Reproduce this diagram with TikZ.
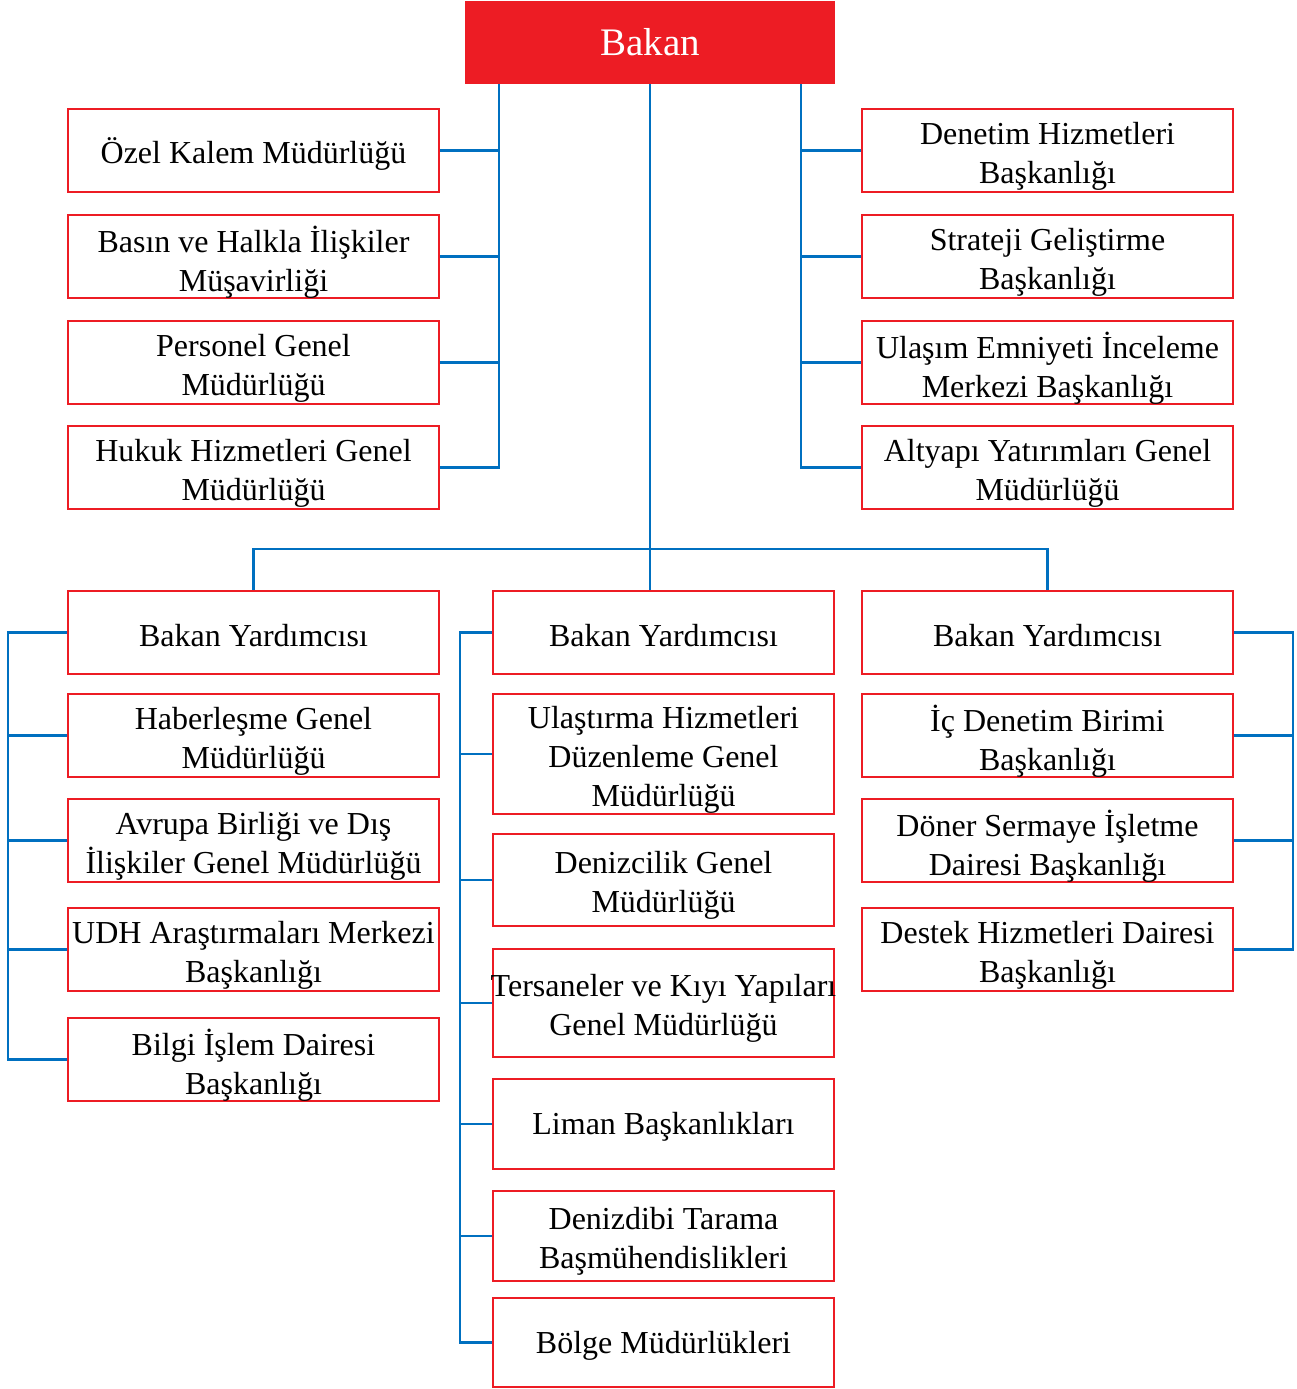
\documentclass[tikz,border=0pt]{standalone}
\usepackage{fontspec}
\setmainfont{Liberation Serif}
\definecolor{boxred}{HTML}{ED1C24}
\definecolor{lineblue}{HTML}{0070C0}
\begin{document}
\begin{tikzpicture}[x=1pt,y=-1pt,
  box/.style={draw=boxred, line width=2.6pt, fill=white, inner sep=0pt},
  txt/.style={inner sep=0pt, align=center, font=\fontsize{32}{39}\selectfont, text=black},
  t1/.style={label={[txt,yshift=-3pt]center:{#1}}},
  t2/.style={label={[txt,yshift=-5.5pt]center:{#1}}},
  wide/.style={box, minimum width=371pt, minimum height=83pt},
  mid/.style={box, minimum width=341pt},
  conn/.style={draw=lineblue, line width=2.6pt, line join=miter}]
\useasboundingbox (0,0) rectangle (1296,1389);

% top
\node[fill=boxred, minimum width=370pt, minimum height=83pt, inner sep=0pt,
  text=white, font=\fontsize{39}{45}\selectfont] (bakan) at (650,42.5) {Bakan};

% trunk coordinates
\coordinate (lt) at (499,0);
\coordinate (rt) at (801,0);
\coordinate (hb) at (650,549);
\coordinate (lb) at (8,0);
\coordinate (mb) at (460,0);
\coordinate (rb) at (1293,0);

% upper left
\node[wide, t1={Özel Kalem Müdürlüğü}] (ozel) at (253.5,150.5) {};
\node[wide, t2={Basın ve Halkla İlişkiler\\Müşavirliği}] (basin) at (253.5,256.5) {};
\node[wide, t2={Personel Genel\\Müdürlüğü}] (pers) at (253.5,362.5) {};
\node[wide, t2={Hukuk Hizmetleri Genel\\Müdürlüğü}] (hukuk) at (253.5,467.5) {};
% upper right
\node[wide, t2={Denetim Hizmetleri\\Başkanlığı}] (denetim) at (1047.5,150.5) {};
\node[wide, t2={Strateji Geliştirme\\Başkanlığı}] (strateji) at (1047.5,256.5) {};
\node[wide, t2={Ulaşım Emniyeti İnceleme\\Merkezi Başkanlığı}] (ulasim) at (1047.5,362.5) {};
\node[wide, t2={Altyapı Yatırımları Genel\\Müdürlüğü}] (altyapi) at (1047.5,467.5) {};

% lower left
\node[wide, t1={Bakan Yardımcısı}] (by1) at (253.5,632.5) {};
\node[wide, t2={Haberleşme Genel\\Müdürlüğü}] (haber) at (253.5,735.5) {};
\node[wide, t2={Avrupa Birliği ve Dış\\İlişkiler Genel Müdürlüğü}] (avrupa) at (253.5,840.5) {};
\node[wide, t2={UDH Araştırmaları Merkezi\\Başkanlığı}] (udh) at (253.5,949.5) {};
\node[wide, t2={Bilgi İşlem Dairesi\\Başkanlığı}] (bilgi) at (253.5,1059.5) {};

% lower middle
\node[mid, minimum height=83pt, t1={Bakan Yardımcısı}] (by2) at (663.5,632.5) {};
\node[mid, minimum height=120pt, t2={Ulaştırma Hizmetleri\\Düzenleme Genel\\Müdürlüğü}] (ulas) at (663.5,754) {};
\node[mid, minimum height=92pt, t2={Denizcilik Genel\\Müdürlüğü}] (deniz) at (663.5,880) {};
\node[mid, minimum height=108pt, t2={Tersaneler ve Kıyı Yapıları\\Genel Müdürlüğü}] (tersane) at (663.5,1003) {};
\node[mid, minimum height=90pt, t1={Liman Başkanlıkları}] (liman) at (663.5,1124) {};
\node[mid, minimum height=90pt, t2={Denizdibi Tarama\\Başmühendislikleri}] (dibi) at (663.5,1236) {};
\node[mid, minimum height=89pt, t1={Bölge Müdürlükleri}] (bolge) at (663.5,1342.5) {};

% lower right
\node[wide, t1={Bakan Yardımcısı}] (by3) at (1047.5,632.5) {};
\node[wide, t2={İç Denetim Birimi\\Başkanlığı}] (icden) at (1047.5,735.5) {};
\node[wide, t2={Döner Sermaye İşletme\\Dairesi Başkanlığı}] (doner) at (1047.5,840.5) {};
\node[wide, t2={Destek Hizmetleri Dairesi\\Başkanlığı}] (destek) at (1047.5,949.5) {};

% upper connectors
\draw[conn] (bakan.south -| lt) -- (lt |- hukuk.east) -- (hukuk.east);
\foreach \n in {ozel,basin,pers} \draw[conn] (\n.east) -- (\n.east -| lt);
\draw[conn] (bakan.south -| rt) -- (rt |- altyapi.west) -- (altyapi.west);
\foreach \n in {denetim,strateji,ulasim} \draw[conn] (\n.west) -- (\n.west -| rt);

% central
\draw[conn] (bakan.south) -- (bakan.south |- by2.north);
\draw[conn] (by1.north) -- (by1.north |- hb) -- (by3.north |- hb) -- (by3.north);

% lower left
\draw[conn] (by1.west) -- (by1.west -| lb) -- (lb |- bilgi.west) -- (bilgi.west);
\foreach \n in {haber,avrupa,udh} \draw[conn] (\n.west) -- (\n.west -| lb);
% lower middle
\draw[conn] (by2.west) -- (by2.west -| mb) -- (mb |- bolge.west) -- (bolge.west);
\foreach \n in {ulas,deniz,tersane,liman,dibi} \draw[conn] (\n.west) -- (\n.west -| mb);
% lower right
\draw[conn] (by3.east) -- (by3.east -| rb) -- (rb |- destek.east) -- (destek.east);
\foreach \n in {icden,doner} \draw[conn] (\n.east) -- (\n.east -| rb);
\end{tikzpicture}
\end{document}
